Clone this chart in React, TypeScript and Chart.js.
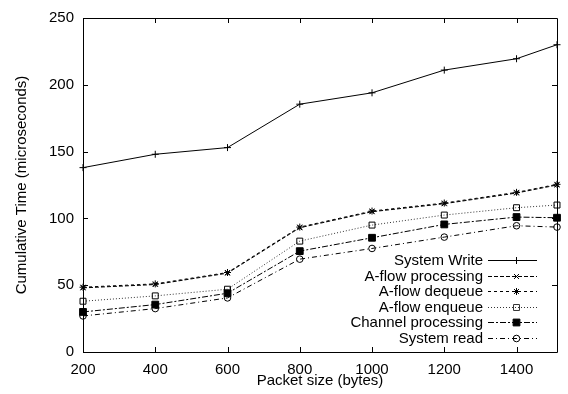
import React, { useEffect, useRef } from "react";
import { Chart, registerables } from "chart.js";

Chart.register(...registerables);

const packetSizes = [200, 400, 600, 800, 1000, 1200, 1400, 1512];
const systemWrite = [138, 148, 153, 185.5, 194, 211, 219.5, 230];
const aflowProcessing = [48, 50.5, 59, 93, 105, 111, 119, 125];
const aflowDequeue = [48.5, 51, 59.5, 93.5, 105.5, 111.5, 119.5, 125.5];
const aflowEnqueue = [38, 42, 47, 83, 95, 102.5, 108, 110];
const channelProcessing = [30, 35.5, 44, 75.5, 85.5, 95.5, 101, 100.5];
const systemRead = [27, 32.5, 40.5, 69.5, 77.5, 86, 94.5, 93.5];

const xTitle = "Packet size (bytes)";
const yTitle = "Cumulative Time (microseconds)";

const seriesNames = [
  "System Write",
  "A-flow processing",
  "A-flow dequeue",
  "A-flow enqueue",
  "Channel processing",
  "System read",
];
const seriesValues = [systemWrite, aflowProcessing, aflowDequeue, aflowEnqueue, channelProcessing, systemRead];
const seriesDash: number[][] = [[], [4, 2], [3, 3], [1, 2], [6, 2, 2, 2], [5, 3, 1, 3]];
const seriesPoint = ["cross", "crossRot", "star", "rect", "rect", "circle"];
const seriesPointFill = ["transparent", "transparent", "transparent", "rgba(0,0,0,0)", "#000", "transparent"];
const seriesPointRadius = [3.5, 3.5, 3.5, 4.2, 4.8, 3.3];
const seriesColor = ["#000", "#000", "#000", "#333", "#000", "#000"];

const FONT = "'Liberation Sans', Arial, Helvetica, sans-serif";

function drawMarker(ctx: CanvasRenderingContext2D, style: string, x: number, y: number, r: number, fill: string) {
  ctx.save();
  ctx.setLineDash([]);
  ctx.beginPath();
  if (style === "cross") {
    ctx.moveTo(x - r, y); ctx.lineTo(x + r, y);
    ctx.moveTo(x, y - r); ctx.lineTo(x, y + r);
    ctx.stroke();
  } else if (style === "crossRot") {
    const d = r * Math.SQRT1_2;
    ctx.moveTo(x - d, y - d); ctx.lineTo(x + d, y + d);
    ctx.moveTo(x - d, y + d); ctx.lineTo(x + d, y - d);
    ctx.stroke();
  } else if (style === "star") {
    const d = r * Math.SQRT1_2;
    ctx.moveTo(x - r, y); ctx.lineTo(x + r, y);
    ctx.moveTo(x, y - r); ctx.lineTo(x, y + r);
    ctx.moveTo(x - d, y - d); ctx.lineTo(x + d, y + d);
    ctx.moveTo(x - d, y + d); ctx.lineTo(x + d, y - d);
    ctx.stroke();
  } else if (style === "rect") {
    const s = r * Math.SQRT1_2;
    ctx.rect(x - s, y - s, 2 * s, 2 * s);
    ctx.fillStyle = fill;
    ctx.fill();
    ctx.stroke();
  } else {
    ctx.arc(x, y, r, 0, Math.PI * 2);
    ctx.stroke();
  }
  ctx.restore();
}

const framePlugin = {
  id: "frameTicks",
  afterDatasetsDraw(chart: any) {
    const { ctx, chartArea } = chart;
    const { left, right, top, bottom } = chartArea;
    const xs = chart.scales.x;
    const ys = chart.scales.y;
    const tl = 5;
    ctx.save();
    ctx.strokeStyle = "#000";
    ctx.lineWidth = 1;
    ctx.setLineDash([]);
    ctx.beginPath();
    xs.ticks.forEach((t: any) => {
      const px = Math.round(xs.getPixelForValue(t.value)) + 0.5;
      ctx.moveTo(px, bottom); ctx.lineTo(px, bottom - tl);
      ctx.moveTo(px, top); ctx.lineTo(px, top + tl);
    });
    ys.ticks.forEach((t: any) => {
      const py = Math.round(ys.getPixelForValue(t.value)) + 0.5;
      ctx.moveTo(left, py); ctx.lineTo(left + tl, py);
      ctx.moveTo(right, py); ctx.lineTo(right - tl, py);
    });
    ctx.stroke();
    ctx.beginPath();
    ctx.rect(Math.round(left) + 0.5, Math.round(top) + 0.5, Math.round(right - left), Math.round(bottom - top));
    ctx.stroke();
    ctx.restore();
  },
};

const legendPlugin = {
  id: "insideLegend",
  afterDraw(chart: any) {
    const { ctx, chartArea } = chart;
    const textRight = chartArea.right - 74;
    const lineStart = chartArea.right - 69;
    const lineEnd = chartArea.right - 20;
    const startY = chartArea.bottom - 92;
    const step = 15.5;
    ctx.save();
    ctx.font = `15px ${FONT}`;
    ctx.textAlign = "right";
    ctx.textBaseline = "middle";
    chart.data.datasets.forEach((ds: any, i: number) => {
      const y = Math.round(startY + i * step) + 0.5;
      ctx.fillStyle = "#000";
      ctx.fillText(ds.label, textRight, y);
      ctx.strokeStyle = ds.borderColor;
      ctx.lineWidth = 1;
      ctx.setLineDash(ds.borderDash || []);
      ctx.beginPath();
      ctx.moveTo(lineStart, y);
      ctx.lineTo(lineEnd, y);
      ctx.stroke();
      drawMarker(ctx, ds.pointStyle, (lineStart + lineEnd) / 2 + 4, y, ds.pointRadius, ds.pointBackgroundColor);
    });
    ctx.restore();
  },
};

export default function App() {
  const ref = useRef<HTMLCanvasElement | null>(null);
  useEffect(() => {
    document.body.style.margin = "0";
    if (!ref.current) return;
    Chart.defaults.font.family = FONT;
    const chart = new Chart(ref.current, {
      type: "line",
      data: {
        datasets: seriesNames.map((name, i) => ({
          label: name,
          data: packetSizes.map((x, j) => ({ x, y: seriesValues[i][j] })),
          borderColor: seriesColor[i],
          borderWidth: 1,
          borderDash: seriesDash[i],
          pointStyle: seriesPoint[i] as any,
          pointRadius: seriesPointRadius[i],
          pointBorderColor: "#000",
          pointBackgroundColor: seriesPointFill[i],
          pointBorderWidth: 1,
          fill: false,
          tension: 0,
          clip: false as any,
        })),
      },
      options: {
        animation: false,
        responsive: false,
        layout: { padding: { top: 17, right: 11, left: 0, bottom: 0 } },
        plugins: { legend: { display: false }, tooltip: { enabled: false } },
        scales: {
          x: {
            type: "linear",
            min: 200,
            max: 1512,
            grid: { display: false, drawTicks: false },
            border: { display: false },
            ticks: {
              stepSize: 200,
              includeBounds: false,
              color: "#000",
              font: { size: 15 },
              padding: 9,
              maxRotation: 0,
              callback: (v: any) => String(v),
            },
            title: { display: true, text: xTitle, color: "#000", font: { size: 15 }, padding: { top: 0, bottom: 4 } },
            afterFit: (s: any) => { s.height = 42; },
          },
          y: {
            min: 0,
            max: 250,
            grid: { display: false, drawTicks: false },
            border: { display: false },
            ticks: { stepSize: 50, color: "#000", font: { size: 15 }, padding: 9, callback: (v: any) => String(v) },
            title: { display: true, text: yTitle, color: "#000", font: { size: 15 }, padding: { top: 13, bottom: 0 } },
            afterFit: (s: any) => { s.width = 83; },
          },
        },
      },
      plugins: [framePlugin, legendPlugin],
    });
    return () => chart.destroy();
  }, []);
  return <canvas ref={ref} width={568} height={394} style={{ display: "block" }} />;
}
